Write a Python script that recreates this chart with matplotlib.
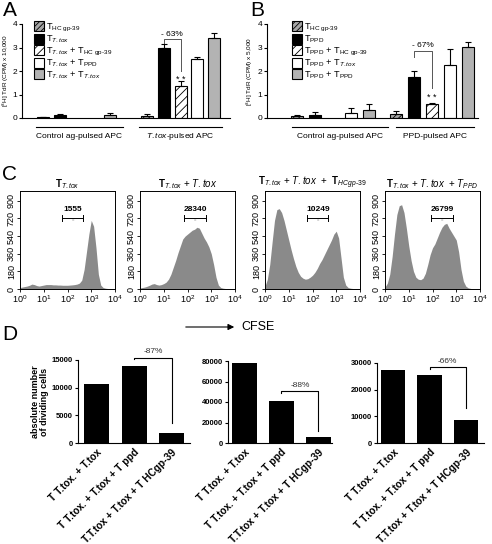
import numpy as np
import matplotlib
matplotlib.use('Agg')
import matplotlib.pyplot as plt
from matplotlib.patches import Patch
from matplotlib.transforms import blended_transform_factory

plt.rcParams['font.family'] = ['Liberation Sans', 'DejaVu Sans']
plt.rcParams['mathtext.fontset'] = 'custom'
plt.rcParams['mathtext.rm'] = 'Liberation Sans'
plt.rcParams['mathtext.it'] = 'Liberation Sans:italic'
plt.rcParams['mathtext.bf'] = 'Liberation Sans:bold'
plt.rcParams['hatch.linewidth'] = 0.6

nan = np.nan
# ---------------- DATA ----------------
# Panel A  ([3H] TdR CPM x 10,000)
a_groups = ['Control ag-pulsed APC', '$\\mathit{T.tox}$-pulsed APC']
a_ctrl = [0.03, 0.13, nan, nan, 0.12]
a_ctrl_err = [0.03, 0.04, nan, nan, 0.09]
a_tox = [0.08, 2.97, 1.37, 2.50, 3.42]
a_tox_err = [0.07, 0.18, 0.19, 0.08, 0.18]
a_labels = ['T$_{\\text{HC gp-39}}$', 'T$_{\\mathit{T.tox}}$',
            'T$_{\\mathit{T.tox}}$ + T$_{\\text{HC gp-39}}$',
            'T$_{\\mathit{T.tox}}$ + T$_{\\text{PPD}}$',
            'T$_{\\mathit{T.tox}}$ + T$_{\\mathit{T.tox}}$']
a_pct = '- 63%'

# Panel B  ([3H] TdR CPM x 5,000)
b_groups = ['Control ag-pulsed APC', 'PPD-pulsed APC']
b_ctrl = [0.07, 0.14, nan, 0.21, 0.33]
b_ctrl_err = [0.06, 0.13, nan, 0.21, 0.25]
b_ppd = [0.18, 1.74, 0.59, 2.26, 3.04]
b_ppd_err = [0.13, 0.24, 0.05, 0.67, 0.18]
b_labels = ['T$_{\\text{HC gp-39}}$', 'T$_{\\text{PPD}}$',
            'T$_{\\text{PPD}}$ + T$_{\\text{HC gp-39}}$',
            'T$_{\\text{PPD}}$ + T$_{\\mathit{T.tox}}$',
            'T$_{\\text{PPD}}$ + T$_{\\text{PPD}}$']
b_pct = '- 67%'

# Panel C  CFSE histograms (log10 CFSE, counts)
c_logx = [0.0, 0.1, 0.2, 0.3, 0.4, 0.5, 0.6, 0.7, 0.8, 0.9,
          1.0, 1.1, 1.2, 1.3, 1.4, 1.5, 1.6, 1.7, 1.8, 1.9,
          2.0, 2.1, 2.2, 2.3, 2.4, 2.5, 2.6, 2.7, 2.8, 2.9,
          3.0, 3.1, 3.2, 3.3, 3.4, 3.5, 3.6, 3.7, 3.8, 3.9, 4.0]
c_h1 = [15, 20, 25, 30, 38, 50, 45, 35, 30, 35,
        40, 45, 45, 45, 42, 42, 40, 40, 38, 38,
        38, 40, 42, 45, 50, 60, 90, 200, 380, 560,
        700, 640, 420, 150, 40, 15, 8, 5, 3, 2, 0]
c_h2 = [10, 15, 20, 28, 38, 50, 55, 45, 40, 45,
        55, 70, 100, 150, 220, 290, 370, 440, 510, 540,
        560, 580, 600, 610, 630, 620, 570, 520, 480, 430,
        360, 250, 120, 40, 15, 8, 5, 3, 2, 1, 0]
c_h3 = [30, 100, 250, 480, 700, 810, 820, 780, 700, 600,
        500, 400, 310, 230, 170, 130, 110, 100, 105, 120,
        140, 170, 210, 260, 300, 350, 400, 450, 500, 560,
        590, 520, 320, 120, 40, 15, 8, 5, 3, 2, 0]
c_h4 = [20, 60, 150, 330, 560, 760, 850, 860, 780, 620,
        440, 290, 180, 120, 100, 95, 110, 160, 250, 350,
        420, 460, 520, 580, 630, 660, 670, 620, 580, 540,
        500, 380, 200, 80, 30, 12, 6, 3, 2, 1, 0]
c_titles = ['$\\mathbf{T}_{\\mathit{T.tox}}$',
            '$\\mathbf{T}_{\\mathit{T.tox}}$ + $\\mathit{T.tox}$',
            '$\\mathbf{T}_{\\mathit{T.tox}}$ + $\\mathit{T.tox}$  +  $\\mathbf{T}_{\\mathit{HCgp\\text{-}39}}$',
            '$\\mathbf{T}_{\\mathit{T.tox}}$ + $\\mathit{T.tox}$  + $\\mathit{T}_{\\mathit{PPD}}$']
c_gate_counts = ['1555', '28340', '10249', '26799']
c_gate_lo = [1.78, 1.87, 1.78, 1.94]
c_gate_hi = [2.67, 2.78, 2.67, 2.88]
c_yticks = [0, 180, 360, 540, 720, 900]

# Panel D  absolute number of dividing cells
d_cats = ['T T.tox. + T.tox', 'T T.tox. + T.tox + T ppd', 'T.T.tox + T.tox + T HCgp-39']
d_vals1 = [10600, 14000, 1750]
d_vals2 = [78000, 40800, 5500]
d_vals3 = [27200, 25600, 8800]
d_pcts = ['-87%', '-88%', '-66%']
d_ymax = [15000, 80000, 30000]
d_ystep = [5000, 20000, 10000]

# ---------------- FIGURE ----------------
W, H = 492, 544
fig = plt.figure(figsize=(W / 100, H / 100), dpi=100)


def px_axes(l, t, r, b):
    return fig.add_axes([l / W, 1 - b / H, (r - l) / W, (b - t) / H])


bar_styles = [dict(facecolor='#a6a6a6', hatch='//////'),
              dict(facecolor='black'),
              dict(facecolor='white', hatch='////'),
              dict(facecolor='white'),
              dict(facecolor='#b3b3b3')]


def bar_panel(ax, groups, vals, errs, pos0, width, xlim, glines, labels,
              ylabel, ylab_x, leg_anchor, pct, brk):
    for g, (v, e) in enumerate(zip(vals, errs)):
        for i in range(5):
            if np.isnan(v[i]):
                continue
            x = pos0[g] + i
            ax.bar(x, v[i], width, edgecolor='black', linewidth=0.8, **bar_styles[i], zorder=2)
            ax.errorbar(x, v[i], yerr=[[0], [e[i]]], fmt='none', ecolor='black',
                        elinewidth=0.8, capsize=2.3, capthick=0.8, zorder=3)
    ax.set_xlim(*xlim)
    ax.set_ylim(0, 4)
    ax.set_yticks([0, 1, 2, 3, 4])
    ax.tick_params(axis='y', labelsize=6, length=2.5, width=0.8, pad=1)
    ax.set_xticks([])
    for s in ['top', 'right']:
        ax.spines[s].set_visible(False)
    ax.spines['left'].set_linewidth(0.8)
    ax.spines['bottom'].set_linewidth(0.8)
    ax.set_ylabel(ylabel, fontsize=4.6)
    ax.yaxis.set_label_coords(ylab_x, 0.5)
    tr = blended_transform_factory(ax.transData, ax.transAxes)
    for (x0, x1), name in zip(glines, groups):
        ax.plot([x0, x1], [-0.095, -0.095], color='black', lw=0.8, transform=tr, clip_on=False)
        ax.text((x0 + x1) / 2, -0.2, name, transform=tr, ha='center', va='center', fontsize=6)
    handles = [Patch(edgecolor='black', linewidth=0.8, **st) for st in bar_styles]
    ax.legend(handles, labels, loc='upper left', bbox_to_anchor=leg_anchor, frameon=False,
              fontsize=6.6, handlelength=1.05, handleheight=1.3, labelspacing=0.0,
              handletextpad=0.25, borderpad=0, borderaxespad=0)
    # bracket
    xl, xr, ytop, yl, yr, ylab, ystar = brk
    ax.plot([xl, xl, xr, xr], [yl, ytop, ytop, yr], color='#555555', lw=0.7, clip_on=False)
    ax.text((xl + xr) / 2, ylab, pct, ha='center', va='center', fontsize=6)
    ax.text(xr, ystar, '* *', ha='center', va='center', fontsize=6.5)


axA = px_axes(22, 24, 230, 118)
bar_panel(axA, a_groups, [a_ctrl, a_tox], [a_ctrl_err, a_tox_err], [0, 6.2], 0.72,
          (-1.27, 11.15), [(-0.45, 4.75), (5.7, 10.65)], a_labels,
          '[$^{3}$H] TdR (CPM) x 10,000', -0.055, (0.06, 1.03), a_pct,
          (7.2, 8.2, 3.35, 3.21, 2.0, 3.56, 1.63))

axB = px_axes(267, 24, 478, 118)
bar_panel(axB, b_groups, [b_ctrl, b_ppd], [b_ctrl_err, b_ppd_err], [0, 5.5], 0.65,
          (-1.65, 10.07), [(-0.28, 5.07), (5.5, 9.87)], b_labels,
          '[$^{3}$H] TdR (CPM) x 5,000', -0.055, (0.12, 1.03), b_pct,
          (6.5, 7.5, 2.83, 2.59, 1.27, 3.1, 0.89))

# ---- Panel C ----
hist_lefts = [20, 140, 265, 385]
hists = [c_h1, c_h2, c_h3, c_h4]
for k in range(4):
    ax = px_axes(hist_lefts[k], 191, hist_lefts[k] + 95, 289)
    x = 10 ** np.array(c_logx)
    ax.fill_between(x, 0, hists[k], color='#8a8a8a', linewidth=0)
    ax.set_xscale('log')
    ax.set_xlim(1, 1e4)
    ax.set_ylim(0, 1000)
    ax.set_xticks([1, 10, 100, 1000, 10000])
    ax.minorticks_off()
    ax.set_yticks(c_yticks)
    ax.set_yticklabels([str(t) for t in c_yticks], rotation=90, va='center')
    ax.tick_params(labelsize=6.5, length=2, width=0.6, pad=1)
    for s in ax.spines.values():
        s.set_linewidth(0.7)
    ax.set_title(c_titles[k], fontsize=7, pad=1.5)
    glo, ghi = 10 ** c_gate_lo[k], 10 ** c_gate_hi[k]
    ax.plot([glo, ghi], [725, 725], color='black', lw=0.7)
    ax.plot([glo, glo], [695, 755], color='black', lw=0.7)
    ax.plot([ghi, ghi], [695, 755], color='black', lw=0.7)
    gm = 10 ** ((c_gate_lo[k] + c_gate_hi[k]) / 2)
    ax.text(gm, 700, '=', ha='center', va='center', fontsize=3, color='#666666')
    ax.text(gm, 775, c_gate_counts[k], ha='center', va='bottom', fontsize=6, fontweight='bold')

# CFSE arrow
fig.add_artist(matplotlib.patches.FancyArrowPatch(
    (183 / W, 1 - 327 / H), (237 / W, 1 - 327 / H), transform=fig.transFigure,
    arrowstyle='-|>', mutation_scale=9, color='black', lw=0.8))
fig.text(241 / W, 1 - 327 / H, 'CFSE', fontsize=9, va='center', ha='left')

# ---- Panel D ----
d_boxes = [(78, 360, 190, 443), (228, 361, 332, 443), (377, 363, 484, 443)]
d_xlims = [(-0.5, 2.49), (-0.45, 2.37), (-0.45, 2.5)]
d_vals = [d_vals1, d_vals2, d_vals3]
d_brk = [(15400, 3600, 16450), (50500, 11700, 56400), (28400, 13000, 30400)]
for k in range(3):
    ax = px_axes(*d_boxes[k])
    xs = np.arange(3)
    ax.bar(xs, d_vals[k], 0.67, color='black')
    ax.set_xlim(*d_xlims[k])
    ax.set_ylim(0, d_ymax[k])
    ax.set_yticks(np.arange(0, d_ymax[k] + 1, d_ystep[k]))
    ax.tick_params(axis='y', labelsize=5.5, length=2.5, width=0.8, pad=1)
    for lab in ax.get_yticklabels():
        lab.set_fontweight('bold')
    ax.set_xticks(xs)
    ax.set_xticklabels(d_cats, rotation=45, ha='right', rotation_mode='anchor',
                       fontsize=7.3, fontweight='bold')
    ax.tick_params(axis='x', length=0, pad=3)
    for s in ['top', 'right']:
        ax.spines[s].set_visible(False)
    ax.spines['left'].set_linewidth(0.8)
    ax.spines['bottom'].set_linewidth(0.8)
    top, rbot, lab = d_brk[k]
    ax.plot([1, 1, 2, 2], [top - 0.02 * d_ymax[k], top, top, rbot], color='black', lw=0.8, clip_on=False)
    ax.text(1.5, lab, d_pcts[k], ha='center', va='center', fontsize=6, color='#333333')
    if k == 0:
        ax.set_ylabel('absolute number\nof dividing cells', fontsize=6.5, fontweight='bold',
                      labelpad=2, linespacing=1.0)

# panel letters
fig.text(3 / W, 1 - 11 / H, 'A', fontsize=15, va='center', ha='left')
fig.text(250 / W, 1 - 11 / H, 'B', fontsize=15, va='center', ha='left')
fig.text(2 / W, 1 - 174 / H, 'C', fontsize=15, va='center', ha='left')
fig.text(2 / W, 1 - 334 / H, 'D', fontsize=15, va='center', ha='left')

fig.savefig('out.png', dpi=100)
